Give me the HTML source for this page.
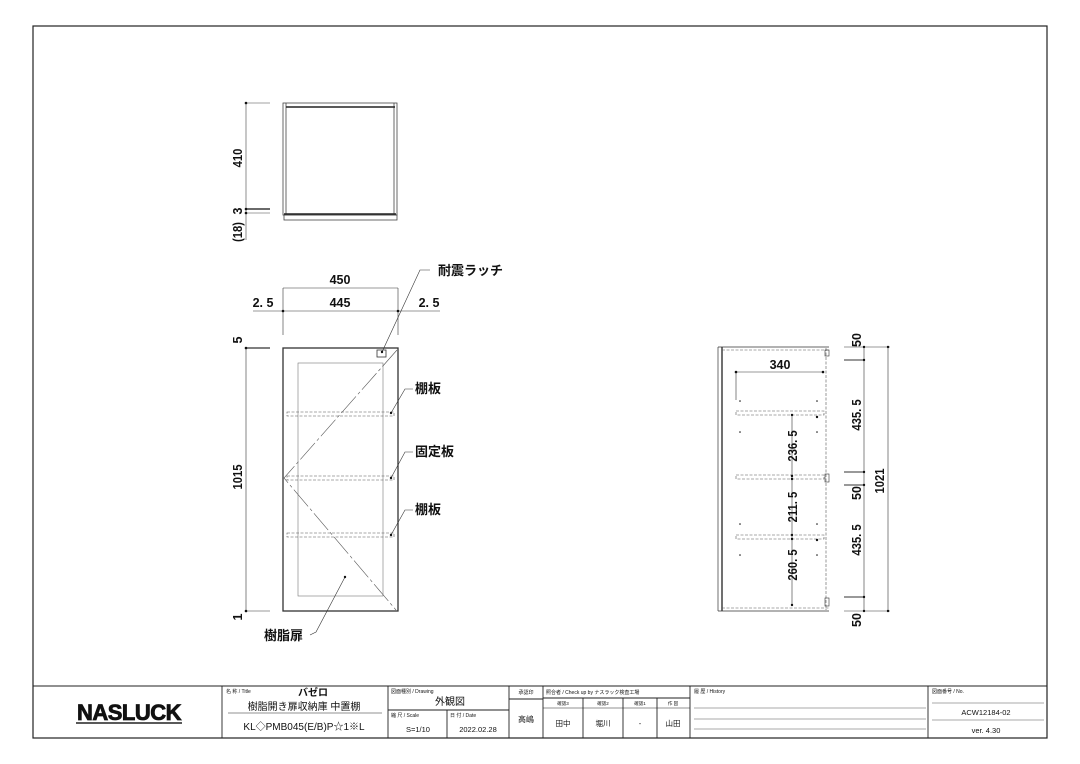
<!DOCTYPE html>
<html><head><meta charset="utf-8"><style>
body{margin:0;background:#fff;}
svg{display:block;font-family:"Liberation Sans","Noto Sans CJK JP",sans-serif;}
.d{font-weight:bold;}
</style></head><body>
<svg width="1080" height="764" viewBox="0 0 1080 764" xmlns="http://www.w3.org/2000/svg">
<rect x="0" y="0" width="1080" height="764" fill="#fff"/>
<rect x="33" y="26" width="1014" height="712" fill="none" stroke="#222" stroke-width="1.2"/>

<!-- TOP VIEW -->
<g stroke="#444" fill="none" stroke-width="0.8">
<rect x="283" y="103" width="114" height="112"/>
<line x1="286" y1="103" x2="286" y2="215"/>
<line x1="394" y1="103" x2="394" y2="215"/>
<line x1="286" y1="107" x2="395" y2="107" stroke="#222" stroke-width="1.6"/>
<line x1="284" y1="214" x2="396" y2="214" stroke="#222" stroke-width="1.6"/>
<rect x="284" y="215" width="113" height="5"/>
<line x1="246" y1="103" x2="270" y2="103" stroke-width="0.6"/>
<line x1="246" y1="103" x2="246" y2="240" stroke-width="0.6"/>
<line x1="246" y1="209" x2="270" y2="209" stroke="#111" stroke-width="1.2"/>
<line x1="246" y1="213" x2="270" y2="213" stroke-width="0.6"/>
</g>
<g fill="#111"><circle cx="246" cy="103" r="1.3"/><circle cx="246" cy="209" r="1.3"/><circle cx="246" cy="213" r="1.3"/></g>
<g font-size="12.5" fill="#111" class="d">
<text transform="translate(242,158) rotate(-90) scale(0.9,1)" text-anchor="middle">410</text>
<text transform="translate(242,211) rotate(-90)" text-anchor="middle">3</text>
<text transform="translate(242,232) rotate(-90) scale(0.9,1)" text-anchor="middle">(18)</text>
</g>

<!-- FRONT VIEW -->
<g stroke="#333" fill="none">
<rect x="283" y="348" width="115" height="263" stroke-width="1.3"/>
<rect x="298" y="363" width="85" height="233" stroke-width="0.6" stroke="#777"/>
<g stroke-dasharray="3,1.5" stroke-width="0.6" stroke="#555">
<rect x="287" y="412" width="107" height="4"/>
<rect x="287" y="476" width="107" height="4"/>
<rect x="287" y="533" width="107" height="4"/>
</g>
<polyline points="397,350 284,478 396,610" stroke-width="0.6" stroke="#555" stroke-dasharray="22,3,3,3"/>
<g stroke-width="0.6">
<line x1="283" y1="288" x2="398" y2="288"/>
<line x1="253" y1="311" x2="440" y2="311"/>
<line x1="283" y1="288" x2="283" y2="335"/>
<line x1="398" y1="288" x2="398" y2="335"/>
<line x1="246" y1="348" x2="246" y2="611"/>
<line x1="246" y1="611" x2="270" y2="611"/>
</g>
<line x1="246" y1="348" x2="270" y2="348" stroke-width="1.2"/>
<g stroke-width="0.6">
<polyline points="382,352 420,270 430,270"/>
<polyline points="391,413 405,389 413,389"/>
<polyline points="391,478 405,452 413,452"/>
<polyline points="391,535 405,510 413,510"/>
<polyline points="345,577 316,632 310,635"/>
</g>
<rect x="377" y="350" width="9" height="7" stroke-width="0.8"/>
</g>
<g fill="#111">
<circle cx="283" cy="311" r="1.3"/><circle cx="398" cy="311" r="1.3"/>
<circle cx="246" cy="348" r="1.3"/><circle cx="246" cy="611" r="1.3"/>
<circle cx="382" cy="352" r="1.2"/><circle cx="391" cy="413" r="1.2"/><circle cx="391" cy="478" r="1.2"/><circle cx="391" cy="535" r="1.2"/><circle cx="345" cy="577" r="1.2"/>
</g>
<g font-size="12.5" fill="#111" class="d">
<text x="340" y="284" text-anchor="middle">450</text>
<text x="340" y="307" text-anchor="middle">445</text>
<text x="263" y="307" text-anchor="middle">2. 5</text>
<text x="429" y="307" text-anchor="middle">2. 5</text>
<text transform="translate(242,340) rotate(-90)" text-anchor="middle">5</text>
<text transform="translate(242,477) rotate(-90) scale(0.9,1)" text-anchor="middle">1015</text>
<text transform="translate(242,617) rotate(-90)" text-anchor="middle">1</text>
<text x="438" y="275" font-size="13">耐震ラッチ</text>
<text x="415" y="393" font-size="13">棚板</text>
<text x="415" y="456" font-size="13">固定板</text>
<text x="415" y="514" font-size="13">棚板</text>
<text x="264" y="640" font-size="13">樹脂扉</text>
</g>

<!-- SIDE VIEW -->
<g stroke="#333" fill="none">
<line x1="718" y1="347" x2="718" y2="611" stroke-width="0.7"/>
<line x1="722" y1="347" x2="722" y2="611" stroke-width="1.4"/>
<line x1="718" y1="347" x2="829" y2="347" stroke-width="0.7"/>
<line x1="718" y1="611" x2="829" y2="611" stroke-width="0.7"/>
<g stroke-dasharray="3,1.5" stroke-width="0.6" stroke="#555">
<line x1="722" y1="350" x2="829" y2="350"/>
<line x1="722" y1="608" x2="829" y2="608"/>
<line x1="826" y1="348" x2="826" y2="610"/>
<rect x="736" y="411" width="88" height="4"/>
<rect x="736" y="475" width="88" height="4"/>
<rect x="736" y="535" width="88" height="4"/>
</g>
<rect x="825" y="350" width="4" height="6" stroke-width="0.6"/>
<rect x="825" y="474" width="4" height="8" stroke-width="0.6"/>
<rect x="825" y="598" width="4" height="8" stroke-width="0.6"/>
<g stroke-width="0.6">
<line x1="736" y1="372" x2="823" y2="372"/>
<line x1="736" y1="372" x2="736" y2="400"/>
<line x1="792" y1="415" x2="792" y2="606"/>
<line x1="888" y1="347" x2="888" y2="611"/>
<line x1="844" y1="347" x2="890" y2="347"/>
<line x1="844" y1="611" x2="890" y2="611"/>
<line x1="864" y1="347" x2="864" y2="611"/>
</g>
<g stroke-width="1">
<line x1="844" y1="360" x2="864" y2="360"/>
<line x1="844" y1="472" x2="864" y2="472"/>
<line x1="844" y1="485" x2="864" y2="485"/>
<line x1="844" y1="597" x2="864" y2="597"/>
</g>
</g>
<g fill="#111">
<circle cx="736" cy="372" r="1.3"/><circle cx="823" cy="372" r="1.3"/>
<circle cx="792" cy="415" r="1.2"/><circle cx="792" cy="476" r="1.2"/><circle cx="792" cy="479" r="1.2"/><circle cx="792" cy="535" r="1.2"/><circle cx="792" cy="539" r="1.2"/><circle cx="792" cy="605" r="1.2"/>
<circle cx="864" cy="347" r="1.2"/><circle cx="864" cy="360" r="1.2"/><circle cx="864" cy="472" r="1.2"/><circle cx="864" cy="485" r="1.2"/><circle cx="864" cy="597" r="1.2"/><circle cx="864" cy="611" r="1.2"/>
<circle cx="888" cy="347" r="1.2"/><circle cx="888" cy="611" r="1.2"/>
<circle cx="740" cy="401" r="0.8"/><circle cx="817" cy="401" r="0.8"/><circle cx="740" cy="432" r="0.8"/><circle cx="817" cy="432" r="0.8"/>
<circle cx="740" cy="524" r="0.8"/><circle cx="817" cy="524" r="0.8"/><circle cx="740" cy="555" r="0.8"/><circle cx="817" cy="555" r="0.8"/>
<circle cx="817" cy="417" r="1.2"/><circle cx="817" cy="540" r="1.2"/>
</g>
<g font-size="12.5" fill="#111" class="d">
<text x="780" y="369" text-anchor="middle">340</text>
<text transform="translate(797,446) rotate(-90) scale(0.9,1)" text-anchor="middle">236. 5</text>
<text transform="translate(797,507) rotate(-90) scale(0.9,1)" text-anchor="middle">211. 5</text>
<text transform="translate(797,565) rotate(-90) scale(0.9,1)" text-anchor="middle">260. 5</text>
<text transform="translate(861,340) rotate(-90)" text-anchor="middle">50</text>
<text transform="translate(861,415) rotate(-90) scale(0.9,1)" text-anchor="middle">435. 5</text>
<text transform="translate(861,493) rotate(-90)" text-anchor="middle">50</text>
<text transform="translate(861,540) rotate(-90) scale(0.9,1)" text-anchor="middle">435. 5</text>
<text transform="translate(861,620) rotate(-90)" text-anchor="middle">50</text>
<text transform="translate(884,481) rotate(-90) scale(0.9,1)" text-anchor="middle">1021</text>
</g>

<!-- TITLE BLOCK -->
<g stroke="#222" fill="none" stroke-width="0.9">
<line x1="33" y1="686" x2="1047" y2="686"/>
<line x1="222" y1="686" x2="222" y2="738"/>
<line x1="388" y1="686" x2="388" y2="738"/>
<line x1="509" y1="686" x2="509" y2="738"/>
<line x1="543" y1="686" x2="543" y2="738"/>
<line x1="690" y1="686" x2="690" y2="738"/>
<line x1="928" y1="686" x2="928" y2="738"/>
<line x1="228" y1="713" x2="382" y2="713" stroke-width="0.6"/>
<line x1="388" y1="710" x2="509" y2="710"/>
<line x1="447" y1="710" x2="447" y2="738"/>
<line x1="509" y1="699" x2="543" y2="699"/>
<line x1="543" y1="698" x2="690" y2="698"/>
<line x1="543" y1="708" x2="690" y2="708" stroke-width="0.5"/>
<line x1="583" y1="698" x2="583" y2="738"/>
<line x1="623" y1="698" x2="623" y2="738"/>
<line x1="657" y1="698" x2="657" y2="738"/>
<g stroke-width="0.5" stroke="#555">
<line x1="694" y1="708" x2="926" y2="708"/>
<line x1="694" y1="719" x2="926" y2="719"/>
<line x1="694" y1="729" x2="926" y2="729"/>
<line x1="932" y1="703" x2="1044" y2="703"/>
<line x1="932" y1="720" x2="1044" y2="720"/>
</g>
<line x1="76" y1="723" x2="182" y2="723" stroke-width="1.5"/>
</g>
<g fill="#111">
<text x="129" y="720" text-anchor="middle" font-size="22" font-weight="bold" letter-spacing="-0.5" stroke="#111" stroke-width="0.8" font-family="Liberation Sans,sans-serif">NASLUCK</text>
<text x="226" y="693" font-size="5">名 称 / Title</text>
<text x="298" y="696" font-size="10" font-weight="bold">バゼロ</text>
<text x="304" y="710" font-size="10" text-anchor="middle">樹脂開き扉収納庫 中置棚</text>
<text x="304" y="730" font-size="10" text-anchor="middle">KL◇PMB045(E/B)P☆1※L</text>
<text x="391" y="693" font-size="5">図面種別 / Drawing</text>
<text x="450" y="705" font-size="10" text-anchor="middle">外観図</text>
<text x="391" y="717" font-size="5">縮 尺 / Scale</text>
<text x="418" y="732" font-size="7.5" text-anchor="middle">S=1/10</text>
<text x="450" y="717" font-size="5">日 付 / Date</text>
<text x="478" y="732" font-size="7.5" text-anchor="middle">2022.02.28</text>
<text x="526" y="694" font-size="5" text-anchor="middle">承認印</text>
<text x="526" y="722" font-size="8" text-anchor="middle">高嶋</text>
<text x="546" y="694" font-size="5">照合者 / Check up by ナスラック検査工場</text>
<text x="563" y="705" font-size="4.5" text-anchor="middle">確認3</text>
<text x="603" y="705" font-size="4.5" text-anchor="middle">確認2</text>
<text x="640" y="705" font-size="4.5" text-anchor="middle">確認1</text>
<text x="673" y="705" font-size="4.5" text-anchor="middle">作 図</text>
<text x="563" y="726" font-size="7.5" text-anchor="middle">田中</text>
<text x="603" y="726" font-size="7.5" text-anchor="middle">堀川</text>
<text x="640" y="726" font-size="7.5" text-anchor="middle">-</text>
<text x="673" y="726" font-size="7.5" text-anchor="middle">山田</text>
<text x="694" y="693" font-size="5">履 歴 / History</text>
<text x="932" y="693" font-size="5">図面番号 / No.</text>
<text x="986" y="715" font-size="7.5" text-anchor="middle">ACW12184-02</text>
<text x="986" y="733" font-size="7.5" text-anchor="middle">ver. 4.30</text>
</g>
</svg>
</body></html>
